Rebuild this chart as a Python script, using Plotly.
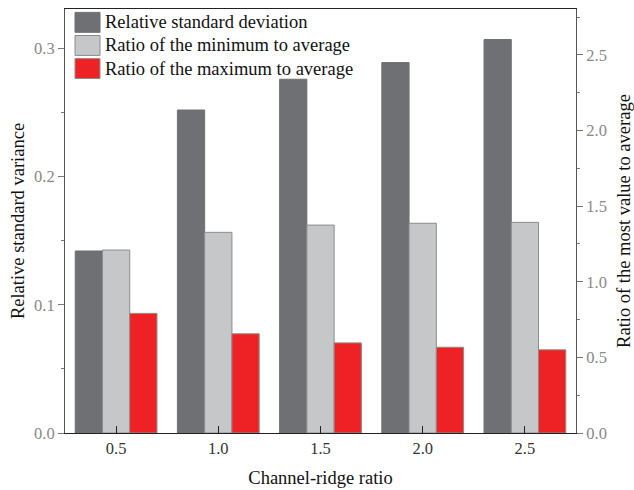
import plotly.graph_objects as go

# Channel-ridge ratio categories
ratios = ["0.5", "1.0", "1.5", "2.0", "2.5"]
positions = [0, 1, 2, 3, 4]

# Left axis series
rel_std_dev = [0.142, 0.252, 0.276, 0.289, 0.307]

# Right axis series
ratio_min_avg = [1.21, 1.327, 1.375, 1.387, 1.393]
ratio_max_avg = [0.791, 0.656, 0.596, 0.567, 0.550]

series_names = [
    "Relative standard deviation",
    "Ratio of the minimum to average",
    "Ratio of the maximum to average",
]
colors = ["#6f7074", "#c6c7c9", "#ee2224"]
outline = ["#6f7074", "#8c8c8c", "#8c8c8c"]

FONT = "'Liberation Serif', 'Times New Roman', serif"
bw = 0.8 / 3

fig = go.Figure()
fig.add_trace(go.Bar(
    x=positions, y=rel_std_dev, name=series_names[0], yaxis="y",
    width=bw, offset=-1.5 * bw,
    marker=dict(color=colors[0], line=dict(color=outline[0], width=1)),
))
fig.add_trace(go.Bar(
    x=positions, y=ratio_min_avg, name=series_names[1], yaxis="y2",
    width=bw, offset=-0.5 * bw,
    marker=dict(color=colors[1], line=dict(color=outline[1], width=1)),
))
fig.add_trace(go.Bar(
    x=positions, y=ratio_max_avg, name=series_names[2], yaxis="y2",
    width=bw, offset=0.5 * bw,
    marker=dict(color=colors[2], line=dict(color=outline[2], width=1)),
))

# Legend drawn as swatches + labels in the upper-left corner of the plot
shapes = []
annotations = []
row_h = 0.0545
for i, (name, c, oc) in enumerate(zip(series_names, colors, outline)):
    y_top = 0.992 - i * row_h
    shapes.append(dict(
        type="rect", xref="paper", yref="paper",
        x0=0.0196, x1=0.0685, y0=y_top - 0.047, y1=y_top,
        fillcolor=c, line=dict(color=oc, width=1),
    ))
    annotations.append(dict(
        xref="paper", yref="paper", x=0.074, y=y_top - 0.0235,
        xanchor="left", yanchor="middle", showarrow=False,
        text=name, font=dict(family=FONT, size=18.5, color="#111"),
    ))

fig.update_layout(
    width=634, height=490,
    margin=dict(l=65, r=58, t=9, b=57),
    paper_bgcolor="white", plot_bgcolor="white",
    showlegend=False,
    font=dict(family=FONT, size=16, color="#111"),
    shapes=shapes,
    annotations=annotations,
    xaxis=dict(
        range=[-0.5, 4.5], automargin=False,
        tickmode="array", tickvals=positions, ticktext=ratios,
        ticks="inside", ticklen=7, tickcolor="#222",
        showline=True, linecolor="#222", linewidth=1, mirror=True,
        showgrid=False, zeroline=False,
        tickfont=dict(family=FONT, size=16.5, color="#333"),
        title=dict(text="Channel-ridge ratio", standoff=14,
                   font=dict(family=FONT, size=18.5, color="#111")),
    ),
    yaxis=dict(
        range=[0, 0.3308], dtick=0.1, tickformat=".1f", automargin=False,
        ticks="outside", ticklen=6, tickcolor="#777",
        minor=dict(dtick=0.05, ticks="outside", ticklen=3, tickcolor="#777"),
        showline=True, linecolor="#555", linewidth=1,
        showgrid=False, zeroline=False,
        tickfont=dict(family=FONT, size=16.5, color="#888"),
        title=dict(text="Relative standard variance", standoff=4,
                   font=dict(family=FONT, size=18.5, color="#111")),
    ),
    yaxis2=dict(
        overlaying="y", side="right", automargin=False,
        range=[0, 2.804], dtick=0.5, tickformat=".1f",
        ticks="outside", ticklen=6, tickcolor="#777",
        minor=dict(dtick=0.25, ticks="outside", ticklen=3, tickcolor="#777"),
        showline=True, linecolor="#555", linewidth=1,
        showgrid=False, zeroline=False,
        tickfont=dict(family=FONT, size=16.5, color="#888"),
        title=dict(text="Ratio of the most value to average", standoff=15,
                   font=dict(family=FONT, size=18.5, color="#111")),
    ),
)

fig.write_html("out.html")
